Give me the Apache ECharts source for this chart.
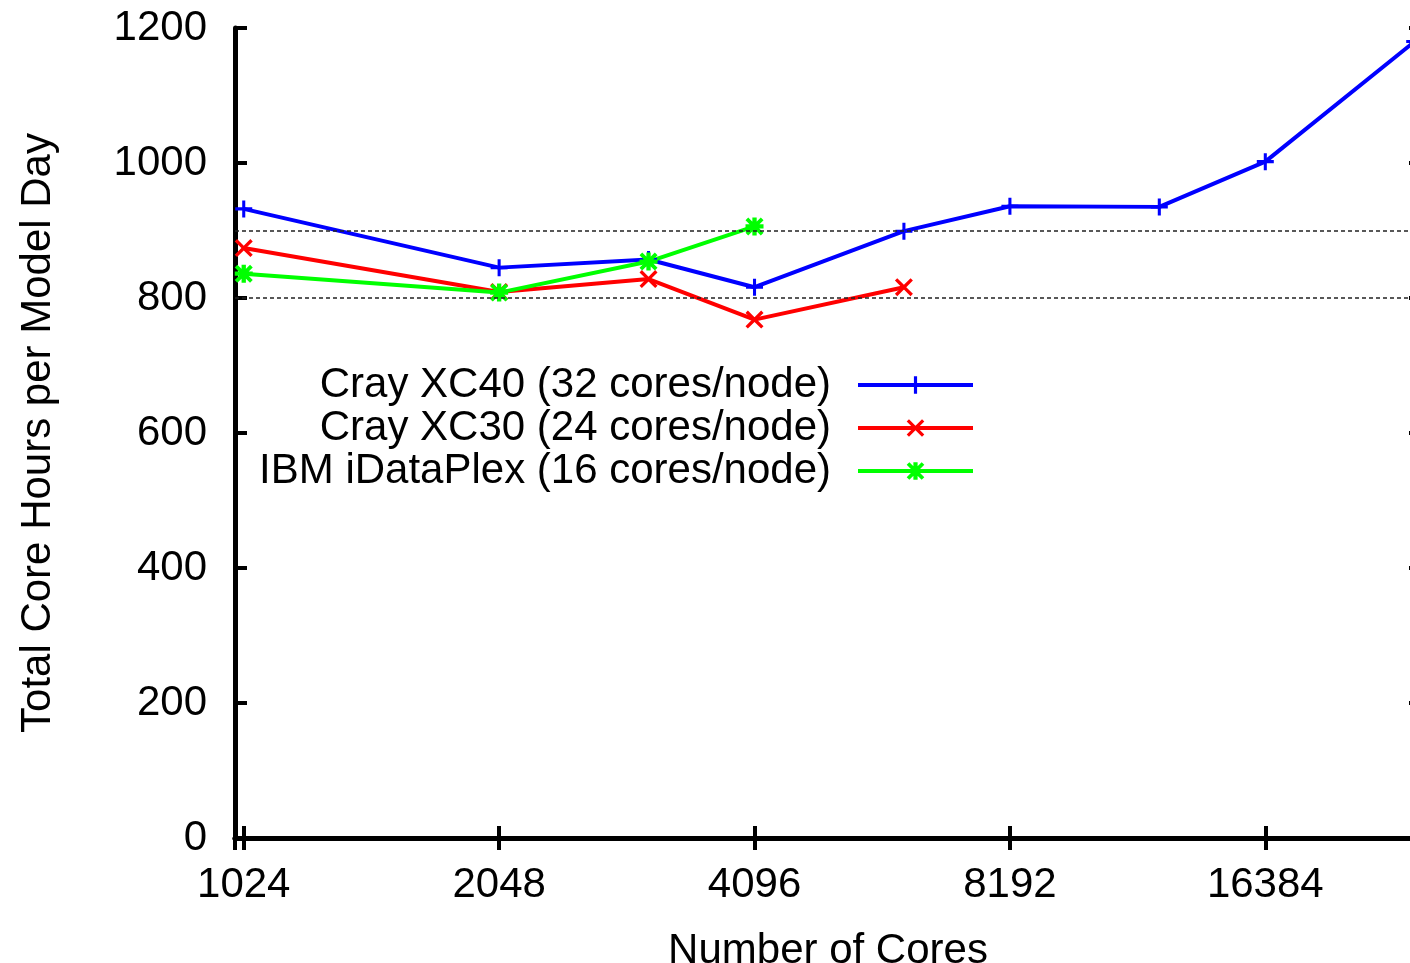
<!DOCTYPE html>
<html>
<head>
<meta charset="utf-8">
<script src="https://cdn.jsdelivr.net/npm/echarts@6/dist/echarts.min.js"></script>
<style>
  html, body { margin: 0; padding: 0; background: #fff; }
  #chart { width: 1410px; height: 963px; }
</style>
</head>
<body>
<div id="chart"></div>
<script>
// cores (x), core hours per model day (y)
var xc40Cores = [1024, 2048, 3072, 4096, 6144, 8192, 12288, 16384, 24576];
var xc40Hours = [932, 845, 857, 816, 899, 936, 935, 1002, 1180];

var xc30Cores = [1024, 2048, 3072, 4096, 6144];
var xc30Hours = [874, 809, 828, 768, 816];

var ibmCores = [1024, 2048, 3072, 4096];
var ibmHours = [836, 808, 854, 906];

var seriesNames = ['Cray XC40 (32 cores/node)', 'Cray XC30 (24 cores/node)', 'IBM iDataPlex (16 cores/node)'];
var refLines = [800, 900];

function pairs(xs, ys) {
    return xs.map(function (x, i) { return [x, ys[i]]; });
}

var font = '"Liberation Sans", Arial, sans-serif';
var plusPath = 'path://M4.1,0H5.9V4.1H10V5.9H5.9V10H4.1V5.9H0V4.1H4.1Z';
var crossPath = 'path://M0,1.3L1.3,0L5,3.7L8.7,0L10,1.3L6.3,5L10,8.7L8.7,10L5,6.3L1.3,10L0,8.7L3.7,5Z';
var starPath = 'path://M0,1.5L1.5,0L5,3.5L8.5,0L10,1.5L6.5,5L10,8.5L8.5,10L5,6.5L1.5,10L0,8.5L3.5,5Z M3.8,0H6.2V10H3.8Z M0,3.8H10V6.2H0Z';

var chart = echarts.init(document.getElementById('chart'));

var axisLineStyle = { color: '#000', width: 5 };
var tickStyle = { color: '#000', width: 4 };

function plain(v) { return String(v); }

var option = {
    animation: false,
    textStyle: { fontFamily: font },
    grid: { left: 235, width: 1186, top: 28, height: 810, outerBoundsMode: 'none', containLabel: false },
    legend: {
        orient: 'vertical',
        align: 'right',
        right: 435,
        top: 364,
        padding: 0,
        itemGap: 1,
        itemWidth: 115,
        itemHeight: 22,
        data: seriesNames,
        lineStyle: { width: 4 },
        textStyle: {
            fontSize: 42,
            lineHeight: 42,
            color: '#000',
            width: 580,
            align: 'right',
            padding: [0, 22, 0, 0]
        }
    },
    xAxis: [{
        type: 'log',
        logBase: 2,
        min: 1000,
        max: 25000,
        name: 'Number of Cores',
        nameLocation: 'middle',
        nameGap: 92,
        nameTextStyle: { fontSize: 42, color: '#000' },
        axisLine: { lineStyle: axisLineStyle },
        axisTick: { inside: true, length: 12, lineStyle: tickStyle },
        axisLabel: { fontSize: 42, color: '#000', margin: 26, formatter: plain, showMinLabel: false, showMaxLabel: false },
        splitLine: { show: false },
        minorTick: { show: false }
    }, {
        type: 'log',
        logBase: 2,
        min: 1000,
        max: 25000,
        position: 'top',
        axisLine: { lineStyle: axisLineStyle },
        axisTick: { inside: true, length: 12, lineStyle: tickStyle },
        axisLabel: { show: false },
        splitLine: { show: false }
    }],
    yAxis: [{
        type: 'value',
        min: 0,
        max: 1200,
        interval: 200,
        name: 'Total Core Hours per Model Day',
        nameLocation: 'middle',
        nameGap: 176,
        nameTextStyle: { fontSize: 42, color: '#000' },
        axisLine: { show: true, lineStyle: axisLineStyle },
        axisTick: { show: true, inside: true, length: 12, lineStyle: tickStyle },
        axisLabel: { fontSize: 42, color: '#000', margin: 28, formatter: plain },
        splitLine: { show: false }
    }, {
        type: 'value',
        min: 0,
        max: 1200,
        interval: 200,
        position: 'right',
        axisLine: { show: true, lineStyle: axisLineStyle },
        axisTick: { show: true, inside: true, length: 12, lineStyle: tickStyle },
        axisLabel: { show: false },
        splitLine: { show: false }
    }],
    series: [{
        name: seriesNames[0],
        type: 'line',
        data: pairs(xc40Cores, xc40Hours),
        symbol: plusPath,
        symbolSize: 17,
        color: '#0000ff',
        lineStyle: { width: 4 },
        itemStyle: { color: '#0000ff' },
        markLine: {
            silent: true,
            symbol: 'none',
            label: { show: false },
            lineStyle: { color: '#222', width: 1.5, type: [4, 3] },
            data: refLines.map(function (v) { return { yAxis: v }; })
        }
    }, {
        name: seriesNames[1],
        type: 'line',
        data: pairs(xc30Cores, xc30Hours),
        symbol: crossPath,
        symbolSize: 18,
        color: '#ff0000',
        lineStyle: { width: 4 },
        itemStyle: { color: '#ff0000' }
    }, {
        name: seriesNames[2],
        type: 'line',
        data: pairs(ibmCores, ibmHours),
        symbol: starPath,
        symbolSize: 18,
        color: '#00ff00',
        lineStyle: { width: 4 },
        itemStyle: { color: '#00ff00' }
    }]
};

chart.setOption(option);
window.addEventListener('resize', function () {
    chart.resize();
});
</script>
</body>
</html>
